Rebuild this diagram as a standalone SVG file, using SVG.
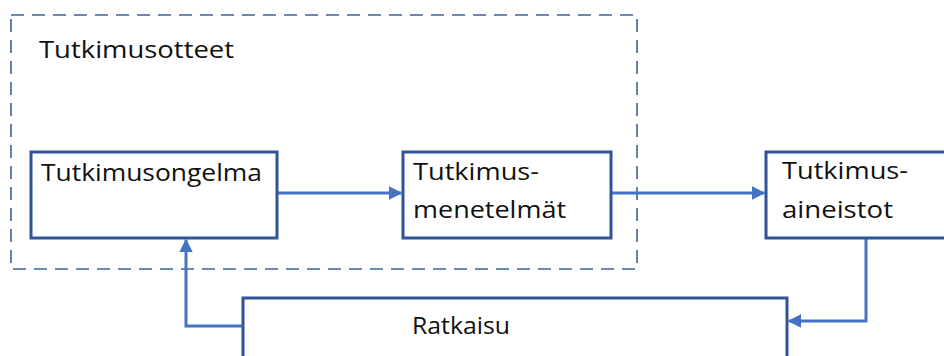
<svg xmlns="http://www.w3.org/2000/svg" width="944" height="356" viewBox="0 0 944 356">
<defs>
<style>
.box{fill:#fff;stroke:#2F5597;stroke-width:3}
.t{font-family:"Open Sans","Noto Sans","Liberation Sans",sans-serif;font-size:24px;fill:#111}
.c{fill:none;stroke:#4472C4;stroke-width:3}
.dash{fill:none;stroke:#3F619C;stroke-width:1.6;stroke-dasharray:13 8}
</style>
<marker id="ah" viewBox="0 0 10 10" refX="9" refY="5" markerWidth="4.5" markerHeight="4.5" orient="auto" markerUnits="strokeWidth">
<path d="M0,0 L10,5 L0,10 z" fill="#4472C4"/>
</marker>
</defs>
<g id="tutkimusotteet">
<rect class="dash" x="11" y="15" width="626" height="254"/>
<text class="t" x="39" y="58" textLength="195" lengthAdjust="spacingAndGlyphs">Tutkimusotteet</text>
</g>
<g id="connectors">
<path class="c" d="M277,193 H401" marker-end="url(#ah)"/>
<path class="c" d="M611,193 H764" marker-end="url(#ah)"/>
<path class="c" d="M866,238 V321 H789" marker-end="url(#ah)"/>
<path class="c" d="M243,326 H186 V240" marker-end="url(#ah)"/>
</g>
<g id="tutkimusongelma">
<rect class="box" x="31" y="152" width="246" height="86"/>
<text class="t" x="41" y="181" textLength="221" lengthAdjust="spacingAndGlyphs">Tutkimusongelma</text>
</g>
<g id="tutkimusmenetelmat">
<rect class="box" x="403" y="152" width="208" height="86"/>
<text class="t" x="413" y="180" textLength="126" lengthAdjust="spacingAndGlyphs">Tutkimus-</text>
<text class="t" x="413" y="218" textLength="153" lengthAdjust="spacingAndGlyphs">menetelmät</text>
</g>
<g id="tutkimusaineistot">
<rect class="box" x="766" y="152" width="190" height="86"/>
<text class="t" x="782" y="179" textLength="126" lengthAdjust="spacingAndGlyphs">Tutkimus-</text>
<text class="t" x="782" y="218" textLength="111" lengthAdjust="spacingAndGlyphs">aineistot</text>
</g>
<g id="ratkaisu">
<rect class="box" x="243" y="298" width="544" height="70"/>
<text class="t" x="412" y="334" textLength="98" lengthAdjust="spacingAndGlyphs">Ratkaisu</text>
</g>
</svg>
